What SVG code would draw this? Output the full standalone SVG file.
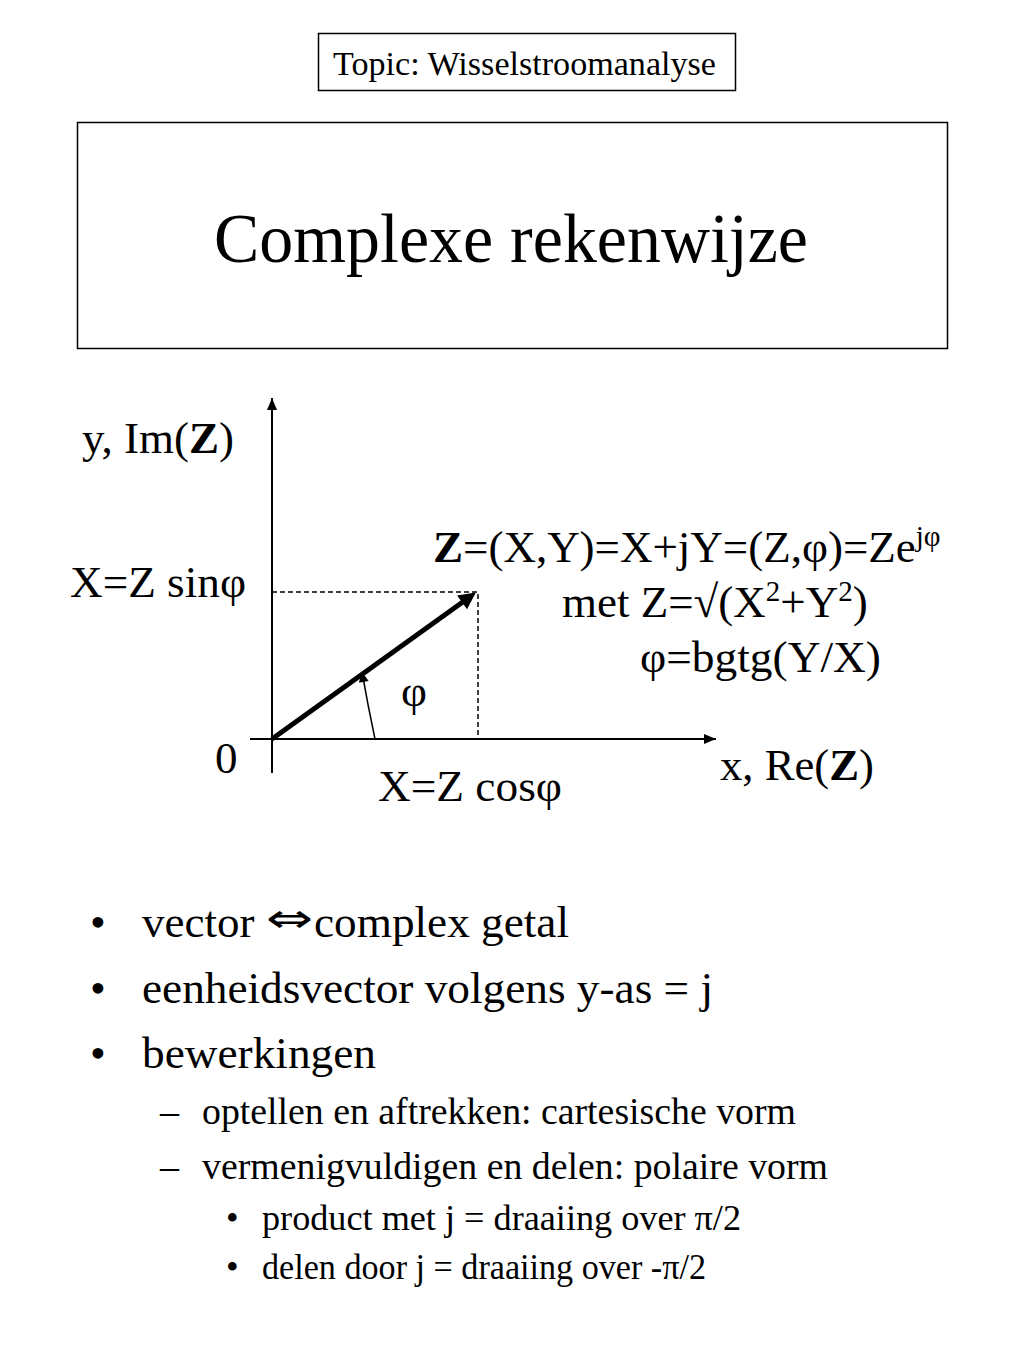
<svg xmlns="http://www.w3.org/2000/svg" width="1024" height="1365" viewBox="0 0 1024 1365">
<style>
text{font-family:"Liberation Serif","DejaVu Serif",serif;fill:#000}
.ax{stroke:#000;stroke-width:2;fill:none}
.dash{stroke:#000;stroke-width:1.5;stroke-dasharray:5,3;fill:none}
.lbl{font-size:45px}
.b1{font-size:45px}
.b2{font-size:38px}
.b3{font-size:36px}
</style>
<defs>
<marker id="ah" viewBox="0 0 12 10" refX="12" refY="5" markerWidth="13" markerHeight="10" markerUnits="userSpaceOnUse" orient="auto"><path d="M0,0 L12,5 L0,10 z" fill="#000"/></marker>
<marker id="ahb" viewBox="0 0 10 10" refX="4.5" refY="5" markerWidth="22" markerHeight="17" markerUnits="userSpaceOnUse" orient="auto"><path d="M0,0 L10,5 L0,10 z" fill="#000"/></marker>
<marker id="ahs" viewBox="0 0 10 10" refX="10" refY="5" markerWidth="12" markerHeight="10" markerUnits="userSpaceOnUse" orient="auto"><path d="M0,0 L10,5 L0,10 z" fill="#000"/></marker>
</defs>
<rect width="1024" height="1365" fill="#fff"/>
<g id="topic">
<rect x="318.5" y="33.5" width="417" height="57" fill="none" stroke="#000" stroke-width="1.5"/>
<text x="333" y="75" font-size="34" textLength="383" lengthAdjust="spacingAndGlyphs">Topic: Wisselstroomanalyse</text>
</g>
<g id="title">
<rect x="77.5" y="122.5" width="870" height="226" fill="none" stroke="#000" stroke-width="1.5"/>
<text x="214" y="262" font-size="70" textLength="594" lengthAdjust="spacingAndGlyphs">Complexe rekenwijze</text>
</g>
<g id="connectors">
<line class="ax" x1="272" y1="773" x2="272" y2="398" marker-end="url(#ah)"/>
<line class="ax" x1="250" y1="739" x2="716" y2="739" marker-end="url(#ah)"/>
<polyline class="dash" points="272,592 478,592 478,739"/>
<line x1="272" y1="739" x2="468.3" y2="598" stroke="#000" stroke-width="5" marker-end="url(#ahb)"/>
<path d="M375,739 Q368,706 362,672" stroke="#000" stroke-width="1.5" fill="none" marker-end="url(#ahs)"/>
</g>
<g id="labels" class="lbl">
<text x="82" y="453" textLength="152" lengthAdjust="spacingAndGlyphs">y, Im(<tspan font-weight="bold">Z</tspan>)</text>
<text x="70" y="597" textLength="176" lengthAdjust="spacingAndGlyphs">X=Z sinφ</text>
<text x="215" y="773">0</text>
<text x="378" y="801" textLength="184" lengthAdjust="spacingAndGlyphs">X=Z cosφ</text>
<text x="720" y="780" textLength="154" lengthAdjust="spacingAndGlyphs">x, Re(<tspan font-weight="bold">Z</tspan>)</text>
<text x="401" y="706">φ</text>
</g>
<g id="formula" class="lbl">
<text x="433" y="562"><tspan font-weight="bold">Z</tspan>=(X,Y)=X+jY=(Z,φ)=Ze<tspan font-size="29" dy="-16">jφ</tspan></text>
<text x="562" y="617">met Z=√(X<tspan font-size="29" dy="-16">2</tspan><tspan dy="16">+Y</tspan><tspan font-size="29" dy="-16">2</tspan><tspan dy="16">)</tspan></text>
<text x="640" y="672" textLength="241" lengthAdjust="spacingAndGlyphs">φ=bgtg(Y/X)</text>
</g>
<g id="bullets">
<text class="b1" x="90" y="937">•</text>
<text class="b1" x="142" y="937">vector</text>
<text x="266" y="932" font-size="40" style="font-family:'DejaVu Sans',sans-serif" textLength="47" lengthAdjust="spacingAndGlyphs">⇔</text>
<text class="b1" x="314" y="937" textLength="255" lengthAdjust="spacingAndGlyphs">complex getal</text>
<text class="b1" x="90" y="1003">•</text><text class="b1" x="142" y="1003" textLength="571" lengthAdjust="spacingAndGlyphs">eenheidsvector volgens y-as = j</text>
<text class="b1" x="90" y="1068">•</text><text class="b1" x="142" y="1068" textLength="234" lengthAdjust="spacingAndGlyphs">bewerkingen</text>
<text class="b2" x="160" y="1124">–</text><text class="b2" x="202" y="1124" textLength="594" lengthAdjust="spacingAndGlyphs">optellen en aftrekken: cartesische vorm</text>
<text class="b2" x="160" y="1179">–</text><text class="b2" x="202" y="1179" textLength="626" lengthAdjust="spacingAndGlyphs">vermenigvuldigen en delen: polaire vorm</text>
<text class="b3" x="226" y="1230">•</text><text class="b3" x="262" y="1230" textLength="479" lengthAdjust="spacingAndGlyphs">product met j = draaiing over π/2</text>
<text class="b3" x="226" y="1279">•</text><text class="b3" x="262" y="1279" textLength="444" lengthAdjust="spacingAndGlyphs">delen door j = draaiing over -π/2</text>
</g>
</svg>
